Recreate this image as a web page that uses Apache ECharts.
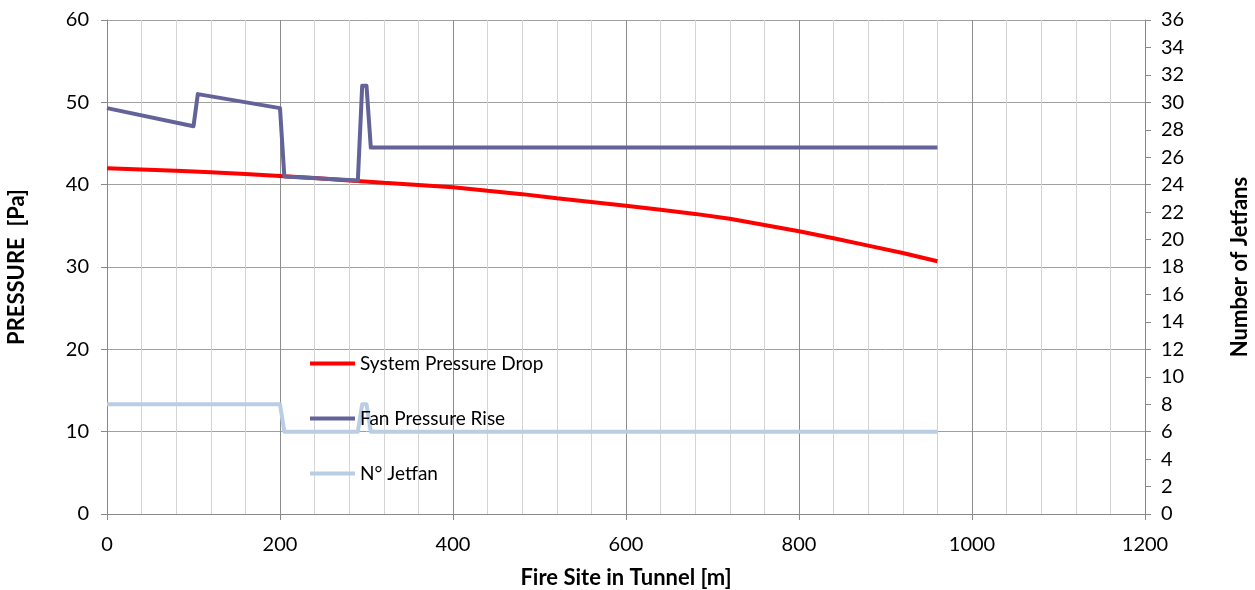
<!DOCTYPE html>
<html>
<head>
<meta charset="utf-8">
<script src="https://cdn.jsdelivr.net/npm/echarts@6/dist/echarts.min.js"></script>
<style>
html,body{margin:0;padding:0;background:#fff;}
#chart{width:1255px;height:590px;}
</style>
</head>
<body>
<div id="chart"></div>
<script>
// Distance along tunnel [m] and values
const dropX = [0,40,80,120,160,200,240,280,320,360,400,440,480,520,560,600,640,680,720,760,800,840,880,920,960];
const dropY = [42.0,41.85,41.68,41.5,41.3,41.05,40.8,40.52,40.22,39.95,39.68,39.25,38.85,38.35,37.9,37.45,36.95,36.45,35.85,35.1,34.35,33.5,32.6,31.7,30.7];

const fanX = [0,100,105,200,205,290,295,300,305,960];
const fanY = [49.3,47.1,51.0,49.3,41.0,40.5,52.0,52.0,44.5,44.5];

const jetX = [0,200,205,290,295,300,305,960];
const jetY = [8,8,6,6,8,8,6,6];

const seriesNames = ['System Pressure Drop','Fan Pressure Rise','N° Jetfan'];
const xTitle = 'Fire Site in Tunnel [m]';
const yLeftTitle = 'PRESSURE  [Pa]';
const yRightTitle = 'Number of Jetfans';

const pairs = (xs, ys) => xs.map((x, i) => [x, ys[i]]);

const FONT = 'Lato, "Open Sans", sans-serif';
const chart = echarts.init(document.getElementById('chart'), null, {renderer:'canvas'});
chart.setOption({
  animation:false,
  backgroundColor:'#ffffff',
  grid:{left:107, right:110, top:20, bottom:76, containLabel:false, outerBoundsMode:'none'},
  legend:{
    orient:'vertical', left:305, top:349,
    itemWidth:45, itemHeight:4, itemGap:36, icon:'rect',
    textStyle:{fontFamily:FONT, fontSize:19, color:'#000'},
    data:seriesNames
  },
  xAxis:{
    type:'value', min:0, max:1200, interval:200,
    name:xTitle, nameLocation:'middle', nameGap:53,
    nameTextStyle:{fontFamily:FONT, fontSize:22, fontWeight:'bold', color:'#000'},
    axisLine:{show:true, lineStyle:{color:'#888', width:1}},
    axisTick:{show:true, inside:false, length:6, lineStyle:{color:'#888'}},
    axisLabel:{fontFamily:FONT, fontSize:20, color:'#000', margin:21, formatter:v => String(v)},
    splitLine:{show:true, lineStyle:{color:'#8c8c8c', width:1}},
    minorTick:{show:false, splitNumber:5},
    minorSplitLine:{show:true, lineStyle:{color:'#d4d4d4', width:1}}
  },
  yAxis:[{
    type:'value', min:0, max:60, interval:10, position:'left',
    name:yLeftTitle, nameLocation:'middle', nameGap:79, nameRotate:90,
    nameTextStyle:{fontFamily:FONT, fontSize:22, fontWeight:'bold', color:'#000'},
    axisLine:{show:true, lineStyle:{color:'#888', width:1}},
    axisTick:{show:true, inside:false, length:6, lineStyle:{color:'#888'}},
    axisLabel:{fontFamily:FONT, fontSize:20, color:'#000', margin:18},
    splitLine:{show:true, lineStyle:{color:'#a0a0a0', width:1}}
  },{
    type:'value', min:0, max:36, interval:2, position:'right',
    name:yRightTitle, nameLocation:'middle', nameGap:84, nameRotate:90,
    nameTextStyle:{fontFamily:FONT, fontSize:22, fontWeight:'bold', color:'#000'},
    axisLine:{show:true, lineStyle:{color:'#888', width:1}},
    axisTick:{show:true, inside:false, length:6, lineStyle:{color:'#888'}},
    axisLabel:{fontFamily:FONT, fontSize:20, color:'#000', margin:16},
    splitLine:{show:false}
  }],
  series:[{
    name:seriesNames[0], type:'line', yAxisIndex:0, showSymbol:false, symbol:'none',
    data:pairs(dropX, dropY), smooth:false,
    itemStyle:{color:'#ff0000'},
    lineStyle:{color:'#ff0000', width:4}
  },{
    name:seriesNames[1], type:'line', yAxisIndex:0, showSymbol:false, symbol:'none',
    data:pairs(fanX, fanY),
    itemStyle:{color:'#636399'},
    lineStyle:{color:'#636399', width:4, join:'round'}
  },{
    name:seriesNames[2], type:'line', yAxisIndex:1, showSymbol:false, symbol:'none',
    data:pairs(jetX, jetY),
    itemStyle:{color:'#b9cde5'},
    lineStyle:{color:'#b9cde5', width:4, join:'round'}
  }]
});
</script>
</body>
</html>
